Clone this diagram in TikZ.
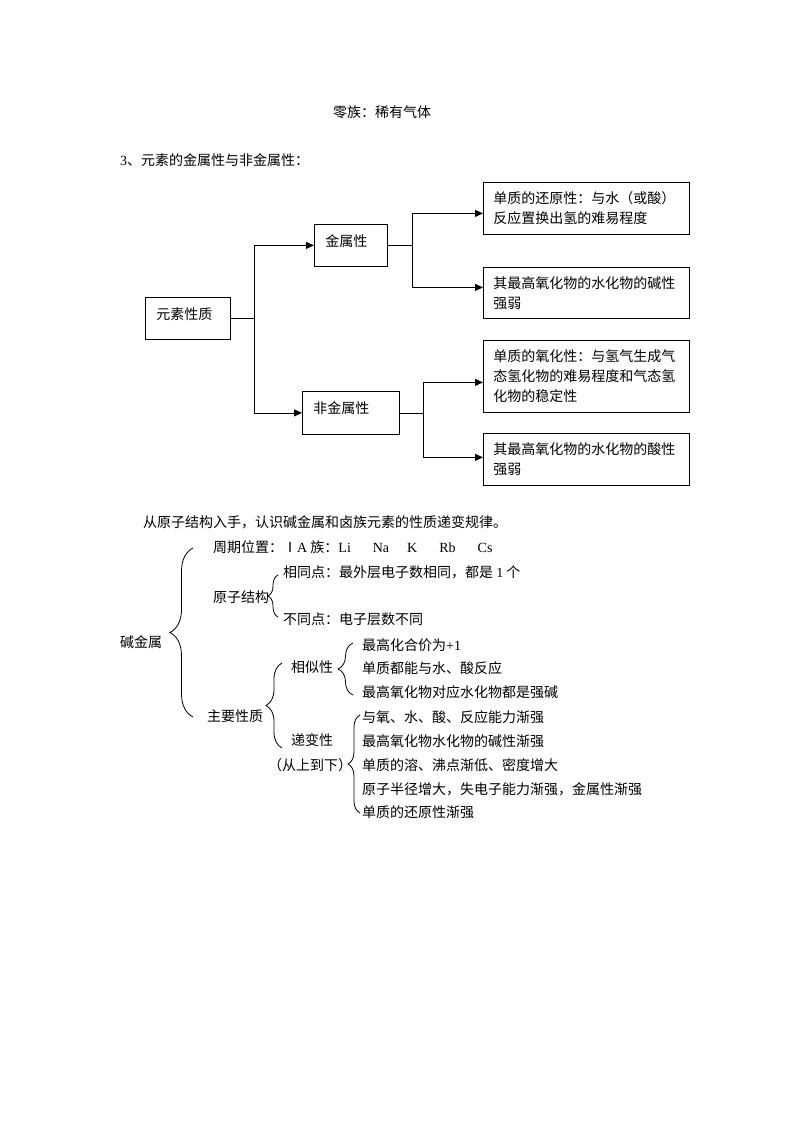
\documentclass[tikz,border=0pt]{standalone}
\usepackage{fontspec}
\setmainfont{Liberation Serif}
\newfontfamily\cjk{Noto Sans CJK SC}
\usepackage{tikz}
\usetikzlibrary{positioning,calc,arrows.meta,decorations.pathreplacing}
\newcommand{\lat}[1]{{\rmfamily #1}}

\tikzset{
  txt/.style={font=\cjk\fontsize{14}{20}\selectfont, inner sep=0pt, anchor=west, text height=12pt, text depth=2pt},
  box/.style={draw, line width=0.8pt, font=\cjk\fontsize{14}{20}\selectfont, anchor=north west, align=left, inner xsep=10pt, inner ysep=0pt},
  tag/.style={box, inner xsep=11pt, text height=10pt, text depth=8pt},
  arr/.style={line width=0.8pt, -{Triangle[length=8pt,width=7pt]}},
  brc/.style={line width=0.8pt, decorate, decoration={brace, amplitude=#1}}
}

\begin{document}
\begin{tikzpicture}[x=1pt,y=-1pt]
    \useasboundingbox (0,0) rectangle (800,1132);

    % heading lines
    \node[txt] (lz) at (333,112) {零族：稀有气体};
    \node[txt] (title) at (120,160) {\lat{3}、元素的金属性与非金属性：};

    % flow chart
    \node[tag, text width=63pt, minimum height=42pt] (el) at (145,297) {元素性质};
    \node[tag, text width=51pt, minimum height=42pt] (jin) at (314,224) {金属性};
    \node[tag, text width=75pt, minimum height=43pt] (fei) at (302,391) {非金属性};

    \node[box, text width=186pt, minimum height=52pt] (r1) at (483,182) {单质的还原性：与水（或酸）\\反应置换出氢的难易程度};
    \node[box, text width=186pt, minimum height=51pt] (r2) at (483,267) {其最高氧化物的水化物的碱性\\强弱};
    \node[box, text width=186pt, minimum height=72pt] (r3) at (483,340) {单质的氧化性：与氢气生成气\\态氢化物的难易程度和气态氢\\化物的稳定性};
    \node[box, text width=186pt, minimum height=52pt] (r4) at (483,433) {其最高氧化物的水化物的酸性\\强弱};

    \coordinate (j1) at ($(el.east)+(24,0)$);
    \draw[line width=0.8pt] (el.east) -- (j1);
    \draw[arr] (j1) |- (jin.west);
    \draw[arr] (j1) |- (fei.west);

    \coordinate (j2) at ($(jin.east)+(24.5,0)$);
    \draw[line width=0.8pt] (jin.east) -- (j2);
    \draw[arr] (j2) |- ([yshift=-5pt]r1.west);
    \draw[arr] (j2) |- ([yshift=5.5pt]r2.west);

    \coordinate (j3) at ($(fei.east)+(24,0)$);
    \draw[line width=0.8pt] (fei.east) -- (j3);
    \draw[arr] (j3) |- ([yshift=-6pt]r3.west);
    \draw[arr] (j3) |- ([yshift=2pt]r4.west);

    % alkali metals
    \node[txt] (intro) at (143,522) {从原子结构入手，认识碱金属和卤族元素的性质递变规律。};
    \node[txt] (jsh) at (120,642) {碱金属};
    \node[txt] (zq) at (213,547) {周期位置：Ⅰ\lat{A} 族：\lat{Li\hspace{22pt}Na\hspace{18pt}K\hspace{22pt}Rb\hspace{22pt}Cs}};
    \node[txt] (yzjg) at (213,597) {原子结构};
    \node[txt] (xtd) at (283,572) {相同点：最外层电子数相同，都是 \lat{1} 个};
    \node[txt] (btd) at (283,619) {不同点：电子层数不同};
    \node[txt] (zyxz) at (207,716) {主要性质};
    \node[txt] (xsx) at (291,667) {相似性};
    \node[txt] (dbx) at (291,740) {递变性};
    \node[txt] (csx) at (268,765) {（从上到下）};

    \node[txt] (s1) at (362,645) {最高化合价为\lat{+1}};
    \node[txt] (s2) at (362,668) {单质都能与水、酸反应};
    \node[txt] (s3) at (362,692) {最高氧化物对应水化物都是强碱};

    \node[txt] (d1) at (362,717) {与氧、水、酸、反应能力渐强};
    \node[txt] (d2) at (362,741) {最高氧化物水化物的碱性渐强};
    \node[txt] (d3) at (362,765) {单质的溶、沸点渐低、密度增大};
    \node[txt] (d4) at (362,789) {原子半径增大，失电子能力渐强，金属性渐强};
    \node[txt] (d5) at (362,812) {单质的还原性渐强};

    % braces
    \draw[brc=23pt] (193,717) -- (193,548);
    \draw[brc=10pt] (278,617) -- (278,575);
    \draw[brc=16pt] (282,748) -- (282,663);
    \draw[brc=15pt] (353,695) -- (353,643);
    \draw[brc=12pt] (360,813) -- (360,715);
\end{tikzpicture}
\end{document}
